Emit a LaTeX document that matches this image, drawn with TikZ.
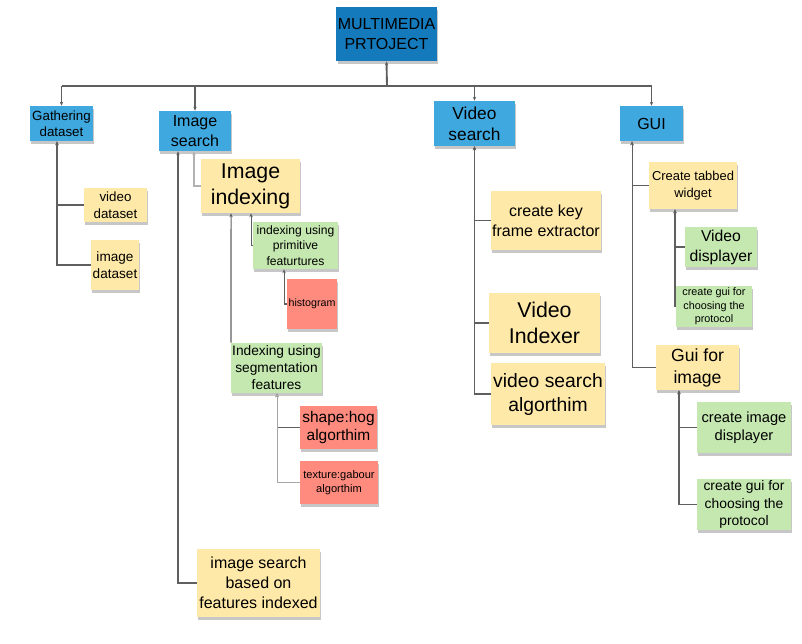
\documentclass[tikz,border=0pt]{standalone}
\usepackage{fontspec}
\setmainfont{Liberation Sans}
\usepackage{xcolor}
\usetikzlibrary{arrows.meta, shadows}

\definecolor{azulesc}{RGB}{20,122,188}
\definecolor{azul}{RGB}{63,168,223}
\definecolor{amarelo}{RGB}{255,233,168}
\definecolor{verde}{RGB}{197,232,176}
\definecolor{vermelho}{RGB}{255,139,126}
\definecolor{cinza}{RGB}{95,95,95}

\tikzset{
  caixa/.style={align=center, inner sep=1pt,
    drop shadow={shadow xshift=1pt, shadow yshift=-2.5pt, opacity=0.22, fill=black}},
  raiz/.style={caixa, fill=azulesc},
  ramo/.style={caixa, fill=azul},
  nota/.style={caixa, fill=amarelo},
  folha/.style={caixa, fill=verde},
  alerta/.style={caixa, fill=vermelho},
  sz/.style 2 args={minimum width=#1*0.75pt, minimum height=#2*0.75pt},
  fs/.style 2 args={font=\fontsize{#1}{#2}\selectfont},
  linha/.style={draw=cinza, line width=0.8pt, -{Stealth[length=3pt, width=2.5pt]}}
}

\begin{document}
\begin{tikzpicture}[x=0.75pt, y=-0.75pt]
  \useasboundingbox (0,0) rectangle (802,643);

  % Raiz
  \node[raiz, sz={99}{54}, fs={12}{15}] (root) at (386.5,34) {MULTIMEDIA\\PRTOJECT};

  % Ramos principais
  \node[ramo, sz={63}{35}, fs={10}{12}] (gath) at (61.5,123.5) {Gathering\\dataset};
  \node[ramo, sz={72}{40}, fs={12}{14.5}] (imgsearch) at (195,131) {Image\\search};
  \node[ramo, sz={81}{45}, fs={13}{15.5}] (vidsearch) at (474.5,123.5) {Video\\search};
  \node[ramo, sz={63}{35}, fs={12}{14}] (gui) at (651.5,123.5) {GUI};

  % Gathering dataset
  \node[nota, sz={63}{34}, fs={10}{12.5}] (vidds) at (115.5,205) {video\\dataset};
  \node[nota, sz={48}{50}, fs={10.2}{12.5}] (imgds) at (115,265) {image\\dataset};

  % Image search
  \node[nota, sz={99}{54}, fs={16}{19.5}] (imgidx) at (250.5,186) {Image\\indexing};
  \node[folha, sz={85}{47}, fs={9.1}{11.5}] (prim) at (295.5,245.5) {indexing using\\primitive\\featurtures};
  \node[alerta, sz={50}{50}, fs={8}{9.5}] (hist) at (312,304) {histogram};
  \node[folha, sz={91}{50}, fs={10.3}{12.8}] (seg) at (276.5,368) {Indexing using\\segmentation\\features};
  \node[alerta, sz={77}{43}, fs={11.6}{14}] (hog) at (338.5,427.5) {shape:hog\\algorthim};
  \node[alerta, sz={78}{43}, fs={8.3}{11}] (gabour) at (339,482.5) {texture:gabour\\algorthim};
  \node[nota, sz={123}{68}, fs={12}{15}] (featsearch) at (258.5,583) {image search\\based on\\features indexed};

  % Video search
  \node[nota, sz={110}{59}, fs={12}{15}] (keyframe) at (546,220.5) {create key\\frame extractor};
  \node[nota, sz={111}{60}, fs={16}{19.5}] (vidindexer) at (544.5,323) {Video\\Indexer};
  \node[nota, sz={114}{62}, fs={14.5}{18}] (vidalgo) at (548,394) {video search\\algorthim};

  % GUI
  \node[nota, sz={88}{47}, fs={9.7}{12.5}] (tabbed) at (693,185.5) {Create tabbed\\widget};
  \node[folha, sz={72}{40}, fs={11.8}{15}] (viddisp) at (721,247) {Video\\displayer};
  \node[folha, sz={76}{41}, fs={8.1}{10}] (protoA) at (714,306.5) {create gui for\\choosing the\\protocol};
  \node[nota, sz={83}{45}, fs={13.2}{16.5}] (guiimg) at (697.5,367.5) {Gui for\\image};
  \node[folha, sz={94}{51}, fs={11}{13.5}] (imgdisp) at (744,427.5) {create image\\displayer};
  \node[folha, sz={94}{51}, fs={10.4}{13}] (protoB) at (744,504.5) {create gui for\\choosing the\\protocol};

  % Barramento superior
  \coordinate (bus) at (387,86);
  \draw[linha, line width=1.4pt] (bus) -- (root.south);
  \draw[draw=cinza, line width=0.8pt] (gath.north |- bus) -- (gui.north |- bus);
  \draw[linha] (gath.north |- bus) -- (gath.north);
  \draw[linha] (imgsearch.north |- bus) -- (imgsearch.north);
  \draw[linha] (vidsearch.north |- bus) -- (vidsearch.north);
  \draw[linha] (gui.north |- bus) -- (gui.north);

  % Ligacoes: Gathering dataset
  \draw[linha] (vidds.west) -| ([xshift=-3.4pt]gath.south);
  \draw[linha] (imgds.west) -| ([xshift=-3.4pt]gath.south);

  % Ligacoes: Image search
  \draw[linha, draw=black!30] (imgidx.west) -| ([xshift=-0.75pt]imgsearch.south);
  \draw[linha] (featsearch.west) -| ([xshift=-12.75pt]imgsearch.south);
  \draw[linha] (prim.west) -| ([xshift=0.4pt]imgidx.south);
  \draw[linha] (seg.north -| 231,0) -- ([xshift=-14.6pt]imgidx.south);
  \draw[linha] (hist.west) -| ([xshift=-8.6pt]prim.south);
  \draw[linha] (hog.west) -| ([xshift=0.4pt]seg.south);
  \draw[linha, draw=black!35] (gabour.west) -| ([xshift=0.4pt]seg.south);

  % Ligacoes: Video search
  \draw[linha] (keyframe.west) -| (vidsearch.south);
  \draw[linha] (vidindexer.west) -| (vidsearch.south);
  \draw[linha] (vidalgo.west) -| (vidsearch.south);

  % Ligacoes: GUI
  \draw[linha] (tabbed.west) -| ([xshift=-14.6pt]gui.south);
  \draw[linha] (guiimg.west) -| ([xshift=-14.6pt]gui.south);
  \draw[linha] (viddisp.west) -| ([xshift=-13.5pt]tabbed.south);
  \draw[linha] (protoA.west) -| ([xshift=-13.5pt]tabbed.south);
  \draw[linha] (imgdisp.west) -| ([xshift=-13.9pt]guiimg.south);
  \draw[linha] (protoB.west) -| ([xshift=-13.9pt]guiimg.south);
\end{tikzpicture}
\end{document}
